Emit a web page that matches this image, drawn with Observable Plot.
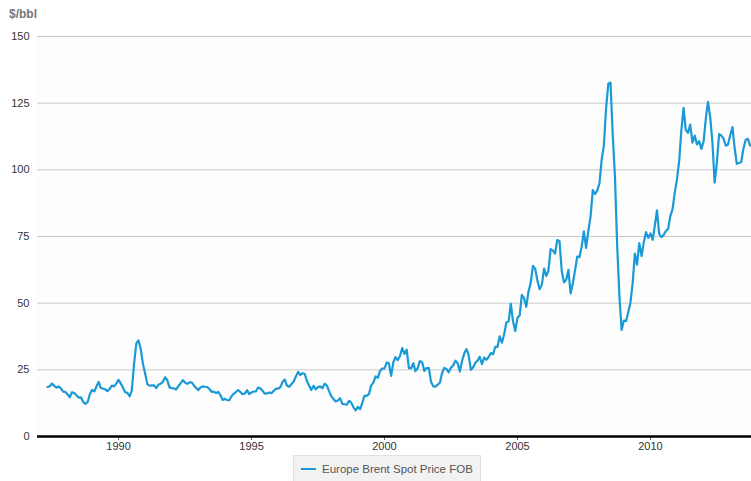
<!DOCTYPE html>
<html>
<head>
<meta charset="utf-8">
<script src="https://cdn.jsdelivr.net/npm/d3@7"></script>
<script src="https://cdn.jsdelivr.net/npm/@observablehq/plot@0.6"></script>
<style>
  html, body { margin: 0; padding: 0; background: #ffffff; }
  #wrap { position: relative; width: 751px; height: 481px; overflow: hidden; font-family: "Liberation Sans", Arial, sans-serif; }
  #unit { position: absolute; left: 9px; top: 7px; font-size: 12px; font-weight: bold; color: #777; }
  #legend { position: absolute; left: 293px; top: 455px; width: 188px; height: 26px; background: #f2f2f2; border: 1px solid #e0e0e0; border-bottom: none; box-sizing: border-box; font-size: 11.5px; color: #555; display: flex; align-items: center; white-space: nowrap; }
  #legend .sw { display: inline-block; width: 15px; height: 2px; background: #199ad6; margin: 0 6px 0 7px; flex: none; }
  #chart { position: absolute; left: 0; top: 0; }
</style>
</head>
<body>
<div id="wrap">
  <div id="chart"></div>
  <div id="unit">$/bbl</div>
  <div id="legend"><span class="sw"></span><span id="legtext"></span></div>
</div>
<script>
// Monthly Europe Brent spot price FOB ($/bbl), starting May 1987
const seriesName = "Europe Brent Spot Price FOB";
const unitLabel = "$/bbl";
const startYear = 1987;
const startMonth = 4; // May (0-based)
const prices = [
  // 1987 May-Dec
  18.58, 18.86, 19.86, 18.98, 18.31, 18.76, 18.04, 16.86,
  // 1988
  16.75, 15.73, 14.73, 16.60, 16.31, 15.49, 14.61, 14.67, 13.04, 12.19, 12.86, 15.75,
  // 1989
  17.44, 16.90, 18.64, 20.48, 18.27, 17.89, 17.70, 16.99, 17.94, 19.09, 18.80, 19.93,
  // 1990
  21.25, 19.81, 18.39, 16.61, 16.35, 15.10, 17.17, 27.17, 34.90, 36.02, 32.82, 27.28,
  // 1991
  23.52, 19.54, 19.08, 19.18, 19.19, 18.17, 19.40, 19.77, 20.50, 22.21, 21.11, 18.41,
  // 1992
  18.16, 18.05, 17.63, 18.92, 19.89, 21.16, 20.25, 19.74, 20.27, 20.32, 19.13, 18.23,
  // 1993
  17.39, 18.45, 18.79, 18.66, 18.56, 17.80, 16.77, 16.81, 16.26, 16.72, 15.41, 13.70,
  // 1994
  14.13, 13.62, 13.60, 15.09, 16.00, 16.69, 17.42, 16.63, 15.82, 16.10, 17.37, 15.89,
  // 1995
  16.52, 16.88, 16.90, 18.37, 18.05, 17.14, 16.08, 16.15, 16.52, 16.24, 17.12, 17.93,
  // 1996
  17.90, 18.50, 20.39, 21.38, 19.12, 18.60, 19.61, 20.57, 22.50, 24.22, 23.06, 23.73,
  // 1997
  23.45, 20.63, 19.16, 17.43, 19.02, 17.68, 18.53, 18.79, 18.08, 19.82, 19.12, 17.04,
  // 1998
  15.04, 14.07, 13.14, 13.47, 14.36, 12.21, 12.08, 11.91, 13.34, 12.70, 10.96, 9.82,
  // 1999
  11.12, 10.27, 12.51, 15.29, 15.23, 15.86, 19.08, 20.18, 22.54, 22.01, 24.58, 25.47,
  // 2000
  25.51, 27.78, 27.49, 22.76, 27.74, 29.80, 28.68, 30.20, 33.14, 30.96, 32.55, 25.66,
  // 2001
  25.62, 27.50, 24.50, 25.66, 28.31, 27.85, 24.61, 25.68, 25.62, 20.54, 18.80, 18.71,
  // 2002
  19.42, 20.28, 23.70, 25.73, 25.35, 24.08, 25.74, 26.65, 28.40, 27.54, 24.34, 28.33,
  // 2003
  31.18, 32.77, 30.61, 25.00, 25.86, 27.65, 28.35, 29.89, 27.11, 29.61, 28.75, 29.81,
  // 2004
  31.28, 30.86, 33.63, 33.59, 37.57, 35.18, 38.22, 42.74, 43.20, 49.78, 43.11, 39.60,
  // 2005
  44.51, 45.48, 53.10, 51.88, 48.65, 54.35, 57.52, 63.98, 62.91, 58.54, 55.24, 56.86,
  // 2006
  62.99, 60.21, 62.06, 70.26, 69.78, 68.56, 73.67, 73.23, 61.96, 57.81, 58.76, 62.47,
  // 2007
  53.68, 57.56, 62.05, 67.49, 67.21, 71.05, 76.93, 70.76, 77.17, 82.34, 92.41, 90.93,
  // 2008
  92.18, 94.99, 103.64, 109.07, 122.80, 132.32, 132.72, 113.24, 97.23, 71.58, 52.45, 39.95,
  // 2009
  43.44, 43.32, 46.54, 50.18, 57.30, 68.61, 64.44, 72.51, 67.65, 72.77, 76.66, 74.46,
  // 2010
  76.17, 73.75, 78.83, 84.82, 75.95, 74.76, 75.58, 77.04, 77.84, 82.67, 85.28, 91.45,
  // 2011
  96.52, 103.72, 114.64, 123.26, 114.99, 113.83, 116.97, 110.22, 112.83, 109.55, 110.77, 107.87,
  // 2012
  110.69, 119.33, 125.45, 119.75, 110.34, 95.16, 102.62, 113.36, 112.86, 111.71, 109.06, 109.49,
  // 2013 Jan-Oct
  112.96, 116.05, 108.47, 102.25, 102.56, 102.92, 107.93, 111.28, 111.60, 109.08
];
const yTicks = [0, 25, 50, 75, 100, 125, 150];
const xTickYears = [1990, 1995, 2000, 2005, 2010];

const data = prices.map((v, i) => ({
  date: new Date(Date.UTC(startYear, startMonth + i, 1)),
  price: v
}));
const xTicks = xTickYears.map(y => new Date(Date.UTC(y, 0, 1)));

document.getElementById("legtext").textContent = seriesName;
document.getElementById("unit").textContent = unitLabel;

const chart = Plot.plot({
  width: 751,
  height: 455,
  marginLeft: 37,
  marginRight: 0,
  marginTop: 36,
  marginBottom: 19,
  style: { fontFamily: "'Liberation Sans', Arial, sans-serif", fontSize: "11px", color: "#333", background: "transparent" },
  x: {
    type: "utc",
    domain: [new Date(Date.UTC(1986, 11, 14)), new Date(Date.UTC(2013, 9, 20))],
    ticks: xTicks,
    tickFormat: d3.utcFormat("%Y"),
    tickSize: 4,
    tickPadding: 2,
    label: null
  },
  y: {
    domain: [0, 150],
    ticks: yTicks,
    tickSize: 0,
    tickPadding: 8,
    label: null
  },
  marks: [
    Plot.frame({ fill: "#fdfdfd", stroke: null }),
    Plot.gridY(yTicks.filter(d => d > 0), { stroke: "#c8c8c8", strokeOpacity: 1, strokeWidth: 1 }),
    Plot.axisY({ ticks: yTicks, tickSize: 0, tickPadding: 8, label: null }),
    Plot.axisX({ ticks: xTicks, tickFormat: d3.utcFormat("%Y"), tickSize: 4, tickPadding: 2, label: null, stroke: "#666" }),
    Plot.line(data, { x: "date", y: "price", stroke: "#199ad6", strokeWidth: 2.2, clip: true }),
    Plot.ruleY([0], { stroke: "#000", strokeWidth: 2.5 })
  ]
});
document.getElementById("chart").appendChild(chart);
</script>
</body>
</html>
